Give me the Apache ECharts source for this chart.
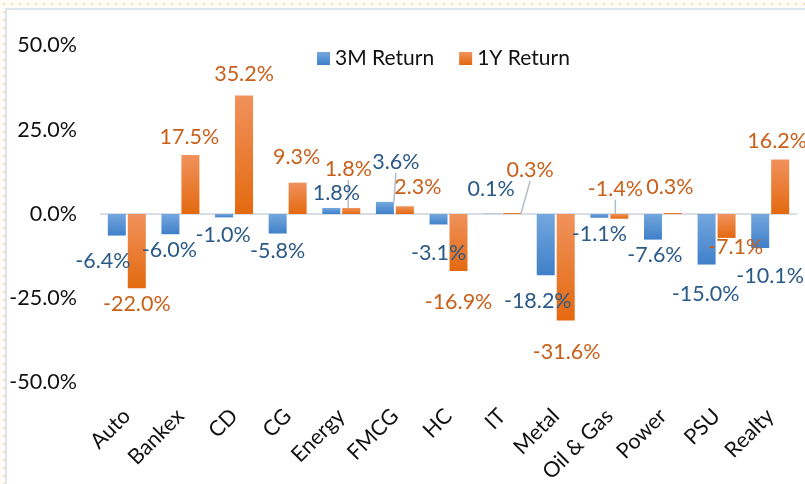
<!DOCTYPE html>
<html lang="en">
<head>
    <meta charset="UTF-8">
    <title>sector returns</title>
    <style>
        html, body { margin: 0; padding: 0; }
        body {
            width: 805px; height: 484px; overflow: hidden; position: relative;
            background-color: #fffdf6;
            background-image: radial-gradient(#efe3bf 1px, transparent 1.4px);
            background-size: 8px 8px;
        }
        #frame {
            position: absolute; left: 5px; top: 8px; width: 810px; height: 490px;
            background: #fff; border-left: 2px solid #dfe3ea; border-top: 2px solid #dfe3ea;
        }
        #container { position: absolute; left: 0; top: 0; width: 805px; height: 484px; }
    </style>
</head>
<body>
<div id="frame"></div>
<div id="container"></div>

<script type="text/javascript" src="https://cdn.jsdelivr.net/npm/echarts@6/dist/echarts.min.js"></script>
<script type="text/javascript">
    var sectors = ['Auto', 'Bankex', 'CD', 'CG', 'Energy', 'FMCG', 'HC', 'IT', 'Metal', 'Oil & Gas', 'Power', 'PSU', 'Realty'];
    var return3M = [-6.4, -6.0, -1.0, -5.8, 1.8, 3.6, -3.1, 0.1, -18.2, -1.1, -7.6, -15.0, -10.1];
    var return1Y = [-22.0, 17.5, 35.2, 9.3, 1.8, 2.3, -16.9, 0.3, -31.6, -1.4, 0.3, -7.1, 16.2];
    var yTicks = [-50, -25, 0, 25, 50];

    var title3M = '3M Return';
    var title1Y = '1Y Return';
    var fontName = 'Lato';
    var textSize = 21.5;
    var textColor = '#111';
    var label3MColor = '#2b5a88';
    var label1YColor = '#c9601a';

    // label nudges (dx, dy) so labels sit where the original chart put them
    var nudge3M = [[-14, 9], [-1, 0], [-1, 2], [0, 2], [5, 1], [11, -24], [0, 13], [-1, -9], [-8, 10], [0, 0], [2, -1], [-1, 14], [10, 12]];
    var nudge1Y = [[0, 0], [-1, -2], [0, -5], [-1, -10], [-3, -23], [13, -3], [0, 15], [18, -27], [1, 16], [-4, -46], [-3, -10], [9, -7], [-3, -2]];
    var leader3M = [5];
    var leader1Y = [4, 7, 9];

    var blueFill = new echarts.graphic.LinearGradient(0, 0, 0, 1, [
        {offset: 0, color: '#74a7de'}, {offset: 1, color: '#3f80c9'}
    ]);
    var orangeFill = new echarts.graphic.LinearGradient(0, 0, 0, 1, [
        {offset: 0, color: '#f0925c'}, {offset: 1, color: '#e4690f'}
    ]);

    function buildData(values, leaders) {
        return values.map(function (v, i) {
            var item = {
                value: v,
                label: {position: v < 0 ? 'bottom' : 'top'}
            };
            if (leaders.indexOf(i) >= 0) {
                item.labelLine = {show: true};
            }
            return item;
        });
    }

    function makeSeries(name, values, fill, labelColor, nudges, leaders) {
        return {
            type: 'bar',
            name: name,
            data: buildData(values, leaders),
            barWidth: 18,
            barGap: '11%',
            itemStyle: {color: fill},
            label: {
                show: true,
                distance: 5,
                color: labelColor,
                fontFamily: fontName,
                fontSize: textSize,
                formatter: function (p) {
                    return p.value.toFixed(1) + '%';
                }
            },
            labelLine: {
                show: false,
                lineStyle: {color: '#b4bcc8', width: 1.5}
            },
            labelLayout: function (p) {
                var n = nudges[p.dataIndex];
                return {dx: n[0], dy: n[1]};
            }
        };
    }

    var myChart = echarts.init(document.getElementById('container'));
    myChart.setOption({
        animation: false,
        textStyle: {fontFamily: fontName},
        legend: {
            left: 312,
            top: 43,
            itemWidth: 13,
            itemHeight: 13,
            itemGap: 25,
            icon: 'rect',
            textStyle: {color: textColor, fontSize: 21, fontFamily: fontName},
            data: [title3M, title1Y]
        },
        grid: {left: 100, right: 8, top: 45.5, bottom: 101.5, containLabel: false, outerBoundsMode: 'none'},
        xAxis: {
            type: 'category',
            data: sectors,
            axisLine: {show: false},
            axisTick: {show: false},
            axisLabel: {
                interval: 0,
                rotate: 45,
                margin: 30,
                color: textColor,
                fontSize: textSize,
                fontFamily: fontName
            }
        },
        yAxis: {
            type: 'value',
            min: yTicks[0],
            max: yTicks[yTicks.length - 1],
            interval: 25,
            axisLine: {show: false},
            axisTick: {show: false},
            axisLabel: {
                margin: 23,
                color: textColor,
                fontSize: textSize,
                fontFamily: fontName,
                formatter: function (val) {
                    return val.toFixed(1) + '%';
                }
            },
            splitLine: {
                show: true,
                lineStyle: {
                    // only the zero line is visible
                    color: yTicks.map(function (t) { return t === 0 ? '#d9dee6' : 'rgba(0,0,0,0)'; }),
                    width: 2
                }
            }
        },
        series: [
            makeSeries(title3M, return3M, blueFill, label3MColor, nudge3M, leader3M),
            makeSeries(title1Y, return1Y, orangeFill, label1YColor, nudge1Y, leader1Y)
        ]
    });
</script>
</body>
</html>
